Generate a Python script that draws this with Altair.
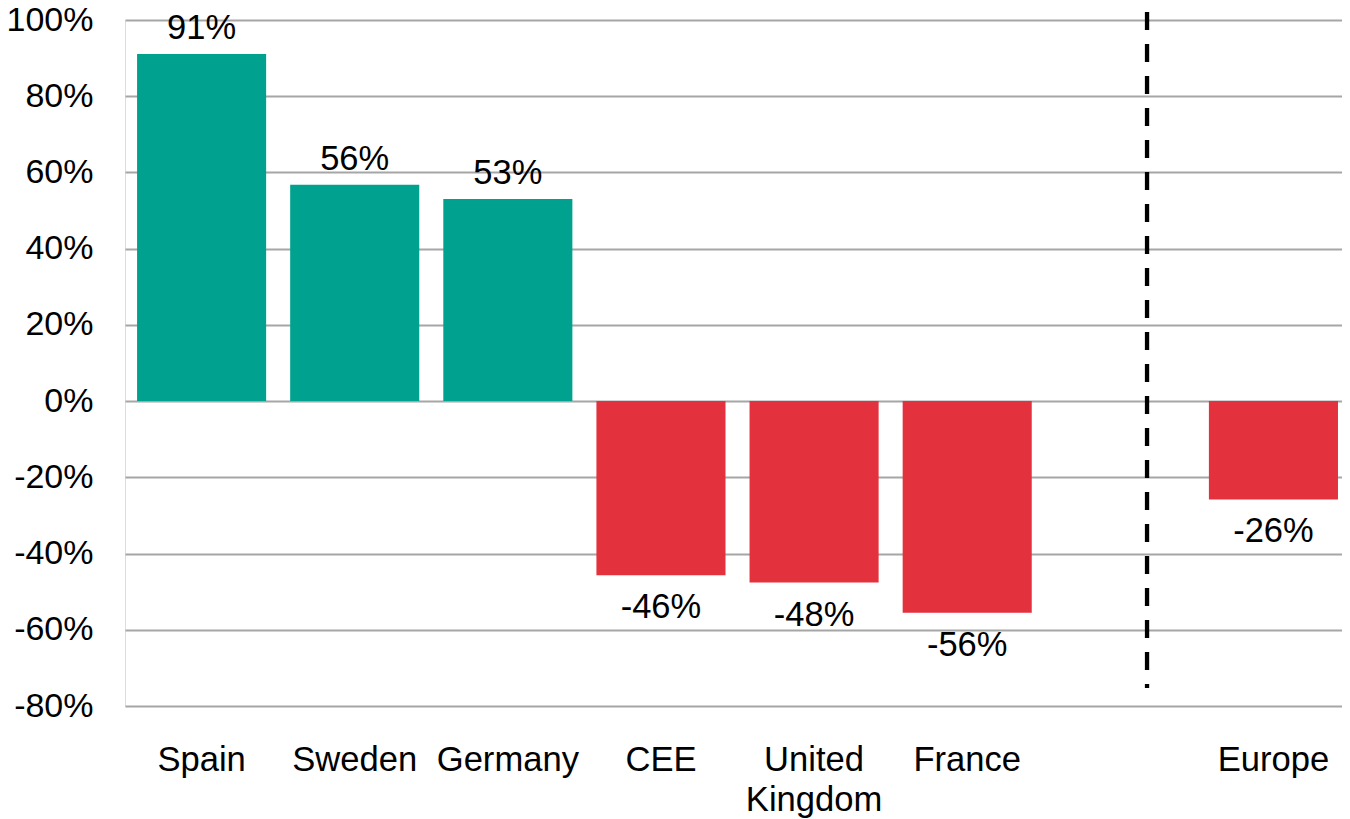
import altair as alt
import pandas as pd

# ---- data ----
categories = ["Spain", "Sweden", "Germany", "CEE", "United Kingdom", "France", "Europe"]
values = [91.1, 56.8, 53.0, -45.7, -47.6, -55.5, -25.8]
labels = ["91%", "56%", "53%", "-46%", "-48%", "-56%", "-26%"]
axis_order = ["Spain", "Sweden", "Germany", "CEE", "United Kingdom", "France", " ", "Europe"]
y_ticks = [-80, -60, -40, -20, 0, 20, 40, 60, 80, 100]
divider_category = [" "]
divider_top = [102.1]
divider_bottom = [-75.3]

GREEN = "#00A28F"
RED = "#E3313D"
FONT = "Liberation Sans"

df = pd.DataFrame({"category": categories, "value": values, "label": labels})
div_df = pd.DataFrame({"category": divider_category, "top": divider_top, "bottom": divider_bottom})

x_scale = alt.Scale(domain=axis_order, paddingInner=0.157, paddingOuter=0.0525, align=0.75)
y_scale = alt.Scale(domain=[-80, 100], nice=False, zero=False)

x_axis = alt.Axis(
    title=None, labelAngle=0, domain=False, ticks=False, tickSize=0, grid=False,
    labelFont=FONT, labelFontSize=34.6, labelColor="black",
    labelBaseline="alphabetic", labelPadding=64, labelLineHeight=40,
    labelLimit=400,
    labelExpr="datum.label == 'United Kingdom' ? ['United', 'Kingdom'] : datum.label",
)
y_axis = alt.Axis(
    title=None, values=y_ticks, domain=False, ticks=False, tickSize=0,
    labelFont=FONT, labelFontSize=34, labelColor="black", labelPadding=32,
    labelExpr="datum.value + '%'",
    grid=True, gridColor="#A6A6A6", gridWidth=2,
)

base = alt.Chart(df)

bars = base.mark_bar().encode(
    x=alt.X("category:N", scale=x_scale, axis=x_axis, sort=axis_order),
    y=alt.Y("value:Q", scale=y_scale, axis=y_axis),
    y2=alt.datum(0),
    color=alt.condition("datum.value > 0", alt.value(GREEN), alt.value(RED)),
)

pos_text = base.transform_filter("datum.value > 0").mark_text(
    font=FONT, fontSize=34.5, color="black", baseline="alphabetic", dy=-15
).encode(
    x=alt.X("category:N", sort=axis_order),
    y=alt.Y("value:Q"),
    text="label:N",
)

neg_text = base.transform_filter("datum.value < 0").mark_text(
    font=FONT, fontSize=34.5, color="black", baseline="alphabetic", dy=43
).encode(
    x=alt.X("category:N", sort=axis_order),
    y=alt.Y("value:Q"),
    text="label:N",
)

divider = alt.Chart(div_df).mark_rule(
    color="black", strokeWidth=4.3, strokeDash=[18, 14]
).encode(
    x=alt.X("category:N", bandPosition=0.707, sort=axis_order),
    y=alt.Y("top:Q"),
    y2="bottom:Q",
)

chart = alt.layer(bars, pos_text, neg_text, divider).properties(
    width=1217,
    height=686,
    autosize=alt.AutoSizeParams(type="none"),
    padding={"left": 117, "top": 12, "right": 0, "bottom": 113},
).configure_view(stroke=None).configure(background="white")

chart.save("out.html", embed_options={"renderer": "svg", "actions": False})
